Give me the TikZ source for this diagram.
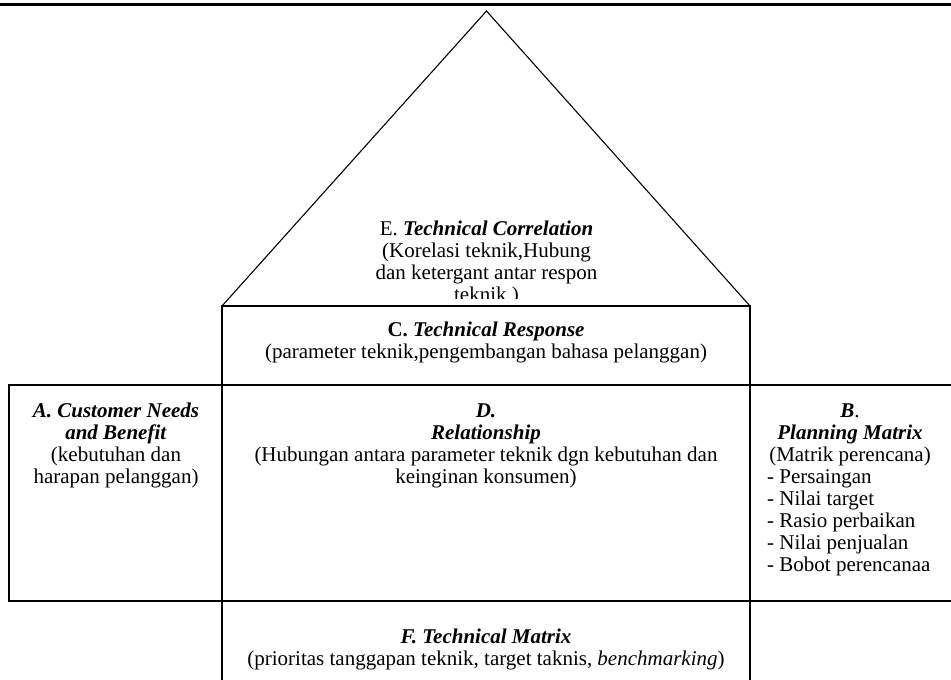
\documentclass[tikz,border=0pt]{standalone}
\usepackage{fontspec}
\setmainfont{Liberation Serif}
\newcommand{\bi}[1]{\textbf{\textit{#1}}}
\tikzset{
  frame/.style={line width=1.4pt, line cap=rect},
  roof/.style={line width=1.1pt, line join=miter},
  topline/.style={line width=2.7pt},
  txt/.style={font=\fontsize{21}{22}\selectfont, inner sep=0pt, align=center, anchor=north},
  lst/.style={font=\fontsize{21}{22}\selectfont, inner sep=0pt, align=left, anchor=north west}
}
\begin{document}
\begin{tikzpicture}[x=1pt,y=-1pt]
\useasboundingbox (0,0) rectangle (951,680);
% coordinates
\coordinate (tl) at (0,4.3);
\coordinate (tr) at (951,4.3);
\coordinate (apex) at (486.5,11);
\coordinate (bl) at (222,306);
\coordinate (br) at (750,306);
\coordinate (al) at (9,385);
\coordinate (ar) at (951,385);
\coordinate (abl) at (9,601);
\coordinate (abr) at (951,601);
\coordinate (fl) at (222,680);
\coordinate (fr) at (750,680);
% lines
\draw[topline] (tl) -- (tr);
\draw[roof] (bl) -- (apex) -- (br);
\draw[frame] (bl) -- (br);
\draw[frame] (bl) -- (fl);
\draw[frame] (br) -- (fr);
\draw[frame] (al) -- (ar);
\draw[frame] (abl) -- (abr);
\draw[frame] (al) -- (abl);
% texts
\begin{scope}
\clip (222,11) rectangle (750,298);
\node[txt] (E) at (486.5,219.6) {\strut E. \bi{Technical Correlation}\\(Korelasi teknik,Hubung\\dan ketergant antar respon\\teknik )};
\end{scope}
\node[txt] (C) at (486,320.6) {\strut\textbf{C.} \bi{Technical Response}\\(parameter teknik,pengembangan bahasa pelanggan)};
\node[txt] (D) at (486,401.6) {\strut\bi{D.}\\\bi{Relationship}\\(Hubungan antara parameter teknik dgn kebutuhan dan\\keinginan konsumen)};
\node[txt] (A) at (116,401.6) {\strut\bi{A. Customer Needs}\\\bi{and Benefit}\\(kebutuhan dan\\harapan pelanggan)};
\node[txt] (B) at (850,401.6) {\strut\bi{B}.\\\bi{Planning Matrix}\\(Matrik perencana)};
\node[lst] (Blist) at (767,467.6) {\strut- Persaingan\\- Nilai target\\- Rasio perbaikan\\- Nilai penjualan\\- Bobot perencanaa};
\node[txt] (F) at (486,627.6) {\strut\bi{F. Technical Matrix}\\(prioritas tanggapan teknik, target taknis, \textit{benchmarking})};
\end{tikzpicture}
\end{document}
